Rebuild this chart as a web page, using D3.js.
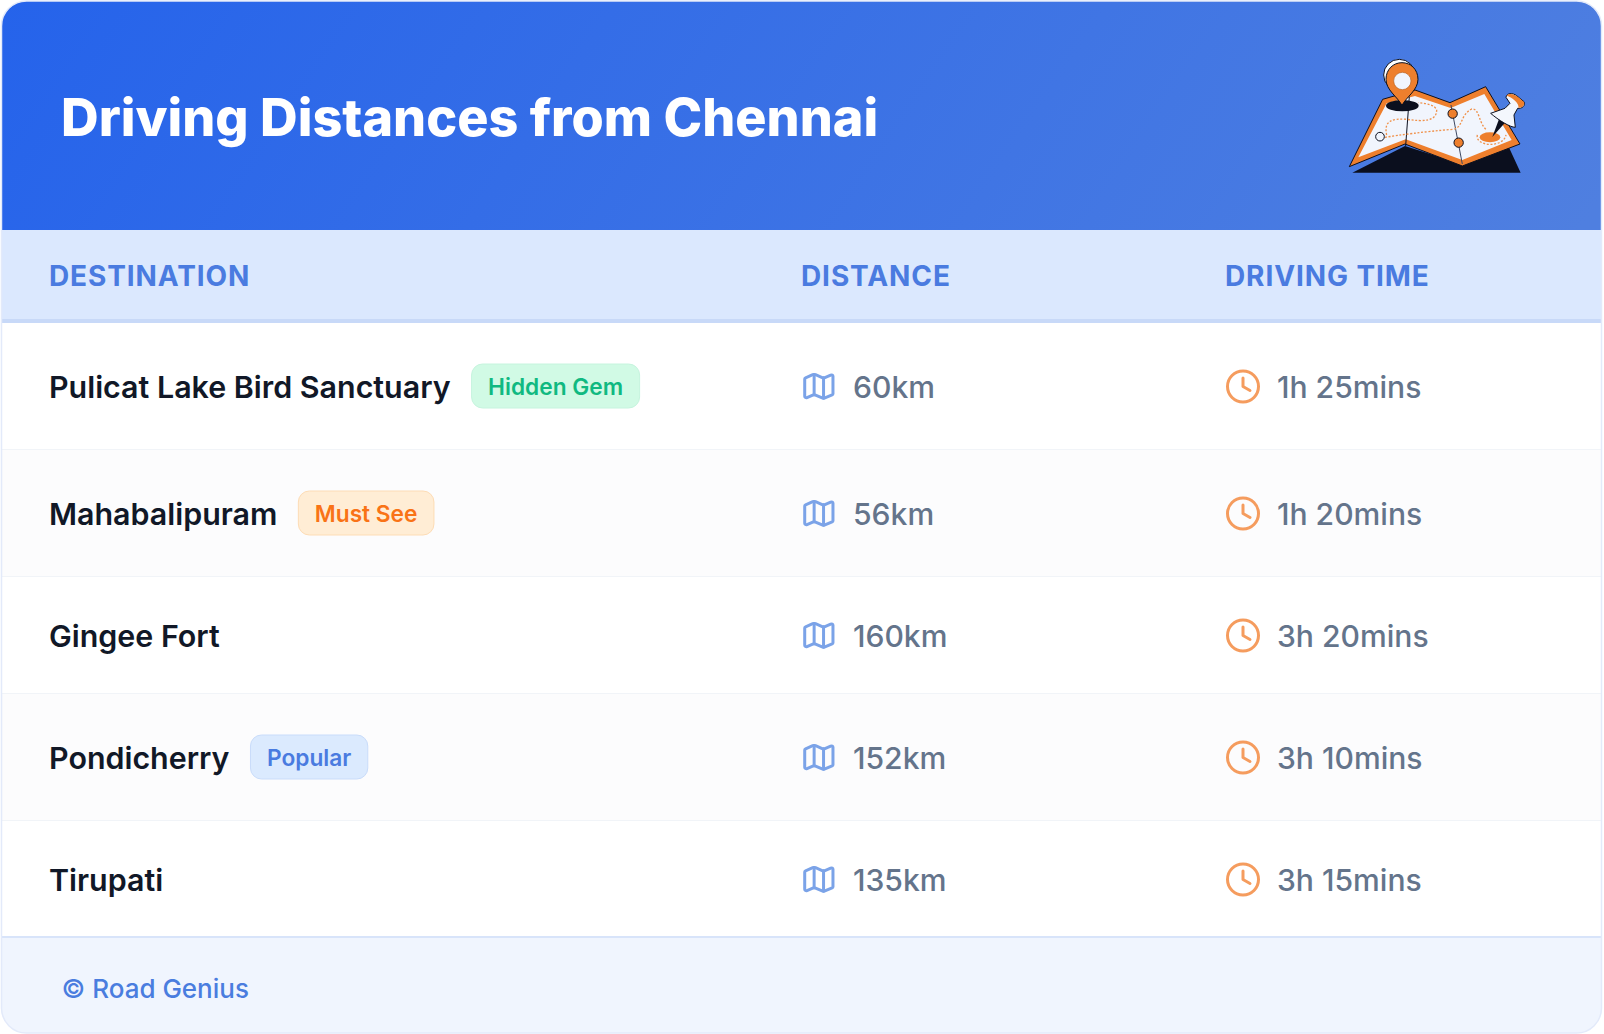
<!DOCTYPE html>
<html>
  <head>
    <meta charset="utf-8">
    <script src="https://d3js.org/d3.v7.min.js"></script>
    <style>
      html, body { margin: 0; background: #fff; }
      svg { display: block; font-family: Inter, "Noto Sans", sans-serif; }
    </style>
  </head>

  <body>
    <div id="vis"></div>
  </body>

  <script>
    const title = "Driving Distances from Chennai"
    const columns = ["DESTINATION", "DISTANCE", "DRIVING TIME"]
    const destinations = ["Pulicat Lake Bird Sanctuary", "Mahabalipuram", "Gingee Fort", "Pondicherry", "Tirupati"]
    const distances = [60, 56, 160, 152, 135]
    const times = ["1h 25mins", "1h 20mins", "3h 20mins", "3h 10mins", "3h 15mins"]
    const badges = ["Hidden Gem", "Must See", null, "Popular", null]
    const credit = "© Road Genius"

    const badgeStyles = {
      "Hidden Gem": {fill: "#d1fae5", stroke: "#c6f4de", text: "#10b981"},
      "Must See": {fill: "#ffedd5", stroke: "#fddcb5", text: "#f97316"},
      "Popular": {fill: "#dbeafe", stroke: "#c9dcfa", text: "#4a7be0"}
    }

    const width = 1604, height = 1034
    const card = {x: 1.5, y: 1, w: 1600, h: 1032, r: 25}
    const headerH = 230, theadBottom = 323, tfootTop = 937
    const colX = [49, 801, 1225]
    const valueOffset = 52

    const svg = d3.select("#vis").append("svg")
      .attr("width", width)
      .attr("height", height)

    const defs = svg.append("defs")
    const grad = defs.append("linearGradient")
      .attr("id", "headGrad")
      .attr("gradientUnits", "userSpaceOnUse")
      .attr("x1", 200).attr("y1", -300).attr("x2", 1400).attr("y2", 500)
    grad.append("stop").attr("offset", 0).attr("stop-color", "#2563eb")
    grad.append("stop").attr("offset", 1).attr("stop-color", "#4f7fe0")

    defs.append("clipPath").attr("id", "cardClip")
      .append("rect")
      .attr("x", card.x).attr("y", card.y)
      .attr("width", card.w).attr("height", card.h)
      .attr("rx", card.r)

    const body = svg.append("g").attr("clip-path", "url(#cardClip)")

    body.append("rect")
      .attr("x", 0).attr("y", 0).attr("width", width).attr("height", height)
      .attr("fill", "#fff")

    // header band
    body.append("rect")
      .attr("x", 0).attr("y", 0).attr("width", width).attr("height", headerH)
      .attr("fill", "url(#headGrad)")

    svg.append("text")
      .attr("x", 61)
      .attr("y", 117)
      .attr("dy", "0.36em")
      .attr("fill", "#fff")
      .attr("font-size", 52.1)
      .attr("font-weight", 800)
      .text(title)

    // table head
    body.append("rect")
      .attr("x", 0).attr("y", headerH).attr("width", width).attr("height", theadBottom - headerH)
      .attr("fill", "#dbe8fe")
    body.append("rect")
      .attr("x", 0).attr("y", theadBottom - 4).attr("width", width).attr("height", 4)
      .attr("fill", "#c8d9f8")

    svg.selectAll("text.col")
      .data(columns)
      .enter()
      .append("text")
      .attr("class", "col")
      .attr("x", (d, i) => colX[i])
      .attr("y", 276)
      .attr("dy", "0.36em")
      .attr("fill", "#4a7be0")
      .attr("font-size", 28)
      .attr("font-weight", 700)
      .attr("letter-spacing", 0.9)
      .text(d => d)

    // rows: the ones carrying a badge are a little taller
    const rowH = i => badges[i] ? 127 : 117
    let rowTop = theadBottom
    const rows = destinations.map((name, i) => {
      const r = {name, i, y: rowTop, h: rowH(i), km: distances[i], time: times[i], badge: badges[i]}
      rowTop += r.h
      return r
    })

    const row = svg.selectAll("g.row")
      .data(rows)
      .enter()
      .append("g")
      .attr("class", "row")
      .attr("transform", d => "translate(0," + d.y + ")")

    row.append("rect")
      .attr("x", card.x)
      .attr("width", card.w)
      .attr("height", d => d.h)
      .attr("fill", d => d.i % 2 ? "#fcfcfd" : "#fff")
    row.append("line")
      .attr("x1", card.x).attr("x2", card.x + card.w)
      .attr("y1", d => d.h - 0.5).attr("y2", d => d.h - 0.5)
      .attr("stroke", "#f1f4f8")

    const names = row.append("text")
      .attr("x", colX[0])
      .attr("y", d => d.h / 2 + 1)
      .attr("dy", "0.36em")
      .attr("fill", "#111827")
      .attr("font-size", 30.4)
      .attr("font-weight", 600)
      .text(d => d.name)

    // badges sit right behind the measured name
    names.each(function(d) {
      if (!d.badge) return
      const style = badgeStyles[d.badge]
      const x0 = colX[0] + this.getComputedTextLength() + 20.5
      const g = d3.select(this.parentNode).append("g")
      const label = g.append("text")
        .attr("x", x0 + 17)
        .attr("y", d.h / 2)
        .attr("dy", "0.36em")
        .attr("fill", style.text)
        .attr("font-size", 22.7)
        .attr("font-weight", 600)
        .text(d.badge)
      g.insert("rect", "text")
        .attr("x", x0 + 0.5)
        .attr("y", d.h / 2 - 22.5)
        .attr("width", label.node().getComputedTextLength() + 33)
        .attr("height", 44)
        .attr("rx", 11)
        .attr("fill", style.fill)
        .attr("stroke", style.stroke)
    })

    // map icon
    const mapIcon = row.append("g")
      .attr("transform", d => "translate(" + (colX[1] - 1) + "," + (d.h / 2 - 16.5) + ") scale(1.57,1.36)")
      .attr("fill", "none")
      .attr("stroke", "#7ba3e8")
      .attr("stroke-linejoin", "round")
      .attr("stroke-linecap", "round")
    mapIcon.append("path").attr("d", "M14.106 5.553a2 2 0 0 0 1.788 0l3.659-1.83A1 1 0 0 1 21 4.619v12.764a1 1 0 0 1-.553.894l-4.553 2.277a2 2 0 0 1-1.788 0l-4.212-2.106a2 2 0 0 0-1.788 0l-3.659 1.83A1 1 0 0 1 3 19.381V6.618a1 1 0 0 1 .553-.894l4.553-2.277a2 2 0 0 1 1.788 0z")
    mapIcon.append("path").attr("d", "M15 5.764v15")
    mapIcon.append("path").attr("d", "M9 3.236v15")
    mapIcon.selectAll("path")
      .attr("stroke-width", 3)
      .attr("vector-effect", "non-scaling-stroke")

    row.append("text")
      .attr("x", colX[1] + valueOffset)
      .attr("y", d => d.h / 2 + 1)
      .attr("dy", "0.36em")
      .attr("fill", "#64748b")
      .attr("font-size", 30.1)
      .attr("font-weight", 500)
      .text(d => d.km + "km")

    // clock icon
    const clock = row.append("g")
      .attr("transform", d => "translate(" + (colX[2] + 18) + "," + (d.h / 2) + ")")
      .attr("fill", "none")
      .attr("stroke", "#f59c5e")
      .attr("stroke-width", 3)
      .attr("stroke-linecap", "round")
      .attr("stroke-linejoin", "round")
    clock.append("circle").attr("r", 15.5)
    clock.append("path").attr("d", "M0 -8.5V0L7 4")

    row.append("text")
      .attr("x", colX[2] + valueOffset)
      .attr("y", d => d.h / 2 + 1)
      .attr("dy", "0.36em")
      .attr("fill", "#64748b")
      .attr("font-size", 30.1)
      .attr("font-weight", 500)
      .text(d => d.time)

    // footer
    body.append("rect")
      .attr("x", 0).attr("y", tfootTop).attr("width", width).attr("height", height - tfootTop)
      .attr("fill", "#f0f5fe")
    svg.append("rect")
      .attr("x", card.x).attr("y", tfootTop - 1).attr("width", card.w).attr("height", 2)
      .attr("fill", "#d8e4fa")
    svg.append("text")
      .attr("x", 61.5)
      .attr("y", 989)
      .attr("dy", "0.36em")
      .attr("fill", "#4a7ddf")
      .attr("font-size", 26)
      .attr("font-weight", 500)
      .text(credit)

    svg.append("rect")
      .attr("x", card.x).attr("y", card.y)
      .attr("width", card.w).attr("height", card.h)
      .attr("rx", card.r)
      .attr("fill", "none")
      .attr("stroke", "#e3eafa")
      .attr("stroke-width", 1.5)

    // map illustration, drawn in a 3x working grid
    const art = svg.append("g").attr("transform", "translate(1290,40) scale(0.3333)")
    const ink = "#0b0f1e", orange = "#ee7f2d", paper = "#f1f5fd"

    art.append("path").attr("d", "M187 398L345 318L515 372L655 318L692 398Z").attr("fill", ink)
    art.append("path")
      .attr("d", "M178 380L278 178L375 150L480 188L587 140L690 312L517 378L345 312Z")
      .attr("fill", orange).attr("stroke", ink).attr("stroke-width", 3).attr("stroke-linejoin", "round")
    art.append("path")
      .attr("d", "M205 352L290 190L375 168L482 204L583 162L665 300L517 360L347 298Z")
      .attr("fill", paper)
    art.append("path").attr("d", "M358 170L347 318").attr("stroke", ink).attr("stroke-width", 3)
    art.append("path").attr("d", "M483 195L517 372").attr("stroke", "#3d4760").attr("stroke-width", 3)

    art.selectAll("path.trail")
      .data([
        "M285 292C330 285 400 275 490 268C520 262 510 225 545 207C570 205 565 250 590 270",
        "M290 285C280 240 310 235 350 238C400 245 440 245 440 210C435 195 410 190 385 188",
        "M562 285C555 320 640 325 648 285"
      ])
      .enter()
      .append("path")
      .attr("class", "trail")
      .attr("d", d => d)
      .attr("fill", "none")
      .attr("stroke", "#f0924c")
      .attr("stroke-width", 4)
      .attr("stroke-dasharray", "6 5")

    art.append("ellipse").attr("cx", 337).attr("cy", 197).attr("rx", 49).attr("ry", 17).attr("fill", ink)
    art.append("ellipse").attr("cx", 600).attr("cy", 292).attr("rx", 31).attr("ry", 15).attr("fill", orange)
    art.append("circle").attr("cx", 270).attr("cy", 290).attr("r", 13).attr("fill", paper).attr("stroke", ink).attr("stroke-width", 3)
    art.selectAll("circle.stop")
      .data([[488, 221], [506, 308]])
      .enter()
      .append("circle")
      .attr("class", "stop")
      .attr("cx", d => d[0]).attr("cy", d => d[1]).attr("r", 14)
      .attr("fill", orange).attr("stroke", ink).attr("stroke-width", 3)

    // location pin with its white offset back
    art.append("circle").attr("cx", 328).attr("cy", 105).attr("r", 47).attr("fill", "#fff").attr("stroke", ink).attr("stroke-width", 3)
    art.append("path")
      .attr("d", "M336 196C322 170 288 150 288 118C288 88 310 68 336 68C362 68 384 88 384 118C384 150 350 170 336 196Z")
      .attr("fill", orange).attr("stroke", ink).attr("stroke-width", 3)
    art.append("circle").attr("cx", 337).attr("cy", 123).attr("r", 26).attr("fill", paper).attr("stroke", "#b8601f").attr("stroke-width", 2)

    // push pin
    art.append("path").attr("d", "M607 291L628 235L645 248Z").attr("fill", ink)
    art.append("path")
      .attr("d", "M602 220L645 205L660 190L648 172C650 158 668 158 680 167L702 185C708 197 695 207 683 205L672 225L676 262C660 262 625 240 602 220Z")
      .attr("fill", "#f4f7fd").attr("stroke", ink).attr("stroke-width", 3).attr("stroke-linejoin", "round")
    art.append("path").attr("d", "M650 167C655 160 668 160 680 168L702 186C705 196 697 204 685 203C690 192 665 170 650 167Z").attr("fill", orange)
  </script>
</html>
